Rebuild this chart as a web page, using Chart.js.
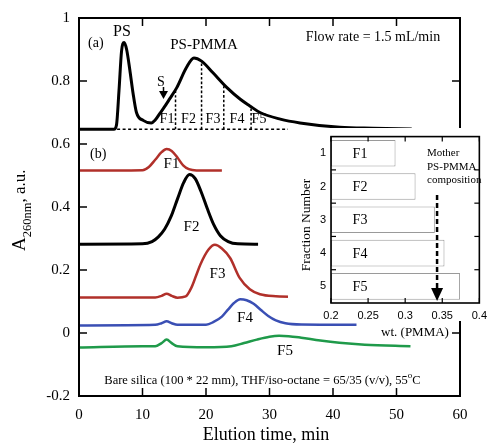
<!DOCTYPE html>
<html><head><meta charset="utf-8">
<script src="https://cdn.jsdelivr.net/npm/chart.js@4.4.1/dist/chart.umd.min.js"></script>
<style>
html,body{margin:0;padding:0;background:#fff;}
#wrap{position:relative;width:493px;height:443px;overflow:hidden;background:#fff;}
#main{position:absolute;left:0;top:0;}
#inset{position:absolute;left:280px;top:125px;}
</style></head><body>
<div id="wrap">
<canvas id="main" width="493" height="443"></canvas>
<canvas id="inset" width="213" height="215"></canvas>
</div>
<script>
// ---------- data ----------
const xTickStep = 10;
const yTickStep = 0.2;
// (a) mother PS-PMMA chromatogram
const aTime = [0, 5.5, 5.9, 6.3, 6.7, 7.1, 7.5, 8.0, 8.5, 9.05, 10.1, 11.4, 12.0, 12.8, 13.4, 14.3, 15.4, 16.9, 18.1, 19.3, 21.1, 23.3, 25.4, 26.9, 28.5, 31.7, 34.8, 41.1, 46.3, 52.4];
const aVal  = [0.647, 0.647, 0.66, 0.77, 0.895, 0.922, 0.9, 0.836, 0.763, 0.70, 0.675, 0.667, 0.676, 0.699, 0.716, 0.744, 0.779, 0.842, 0.873, 0.863, 0.826, 0.779, 0.742, 0.721, 0.70, 0.679, 0.667, 0.653, 0.65, 0.648];
const aBaseTime = [6, 52.5];
const aBaseVal = [0.647, 0.647];
const cutTime = [15.2, 19.3, 22.8, 27.1];
const cutTop  = [0.775, 0.863, 0.79, 0.719];
// (b) fractions
const f1Time = [0, 10, 11, 12, 13, 13.8, 14.6, 15.5, 16.4, 17.3, 18.5, 22.5];
const f1Val  = [0.516, 0.517, 0.527, 0.55, 0.574, 0.584, 0.578, 0.557, 0.532, 0.52, 0.516, 0.516];
const f2Time = [0, 10, 11.5, 12.5, 13.5, 14.5, 15.5, 16.5, 17.4, 18.3, 19.2, 20.2, 21.2, 22.3, 23.5, 25, 28.2];
const f2Val  = [0.282, 0.283, 0.29, 0.305, 0.33, 0.37, 0.425, 0.478, 0.503, 0.49, 0.45, 0.395, 0.345, 0.308, 0.29, 0.283, 0.282];
const f3Time = [0, 12, 13, 13.8, 14.6, 15.5, 16.8, 17.7, 18.4, 19.1, 20.4, 21.4, 22.5, 23.8, 25.3, 26.9, 28.5, 31, 35.6];
const f3Val  = [0.113, 0.113, 0.118, 0.125, 0.118, 0.112, 0.116, 0.144, 0.18, 0.217, 0.265, 0.28, 0.268, 0.238, 0.175, 0.139, 0.123, 0.117, 0.115];
const f4Time = [0, 12, 13, 13.8, 14.6, 15.5, 20, 21.2, 22.5, 23.5, 24.4, 25.4, 26.4, 27.5, 28.7, 29.8, 31, 32.5, 35, 43.7];
const f4Val  = [0.024, 0.026, 0.031, 0.037, 0.031, 0.026, 0.026, 0.035, 0.052, 0.075, 0.095, 0.107, 0.104, 0.093, 0.072, 0.054, 0.04, 0.031, 0.027, 0.026];
const f5Time = [0, 10, 12, 13, 13.8, 14.6, 15.5, 20, 24, 26, 28, 30, 31.5, 33, 35, 38, 41, 45, 52.2];
const f5Val  = [-0.046, -0.042, -0.042, -0.032, -0.021, -0.032, -0.042, -0.045, -0.042, -0.032, -0.021, -0.012, -0.009, -0.01, -0.015, -0.024, -0.031, -0.037, -0.042];
// inset
const fracLabels = ['1', '2', '3', '4', '5'];
const fracNames = ['F1', 'F2', 'F3', 'F4', 'F5'];
const pmmaWt = [0.287, 0.314, 0.340, 0.353, 0.374];
const motherPMMA = 0.343;
const insetXStep = 0.05;

// ---------- helpers ----------
const serif = "'Liberation Serif','Times New Roman',serif";
const sans = "'Liberation Sans',Arial,sans-serif";
const RED = '#b1302a', BLUE = '#3a4fb4', GREEN = '#1f9a4a', BLACK = '#000';
function pts(xs, ys) { return xs.map((x, i) => ({ x: x, y: ys[i] })); }
function lineDs(xs, ys, color, w, dash) {
  return { data: pts(xs, ys), borderColor: color, borderWidth: w, pointRadius: 0, fill: false,
           cubicInterpolationMode: 'monotone', borderDash: dash || [], borderCapStyle: 'butt' };
}
function seg(ctx, x1, y1, x2, y2) { ctx.beginPath(); ctx.moveTo(x1, y1); ctx.lineTo(x2, y2); ctx.stroke(); }
function txt(ctx, s, x, y, font, align) { ctx.font = font; ctx.textAlign = align || 'center'; ctx.textBaseline = 'alphabetic'; ctx.fillText(s, x, y); }

const datasets = [
  lineDs(aTime, aVal, BLACK, 3),
  lineDs(aBaseTime, aBaseVal, BLACK, 1.5, [3, 2.5]),
];
cutTime.forEach((t, i) => datasets.push(lineDs([t, t], [aBaseVal[0], cutTop[i]], BLACK, 1.5, [2.5, 2])));
datasets.push(lineDs(f1Time, f1Val, RED, 2.5));
datasets.push(lineDs(f2Time, f2Val, BLACK, 3));
datasets.push(lineDs(f3Time, f3Val, RED, 2.5));
datasets.push(lineDs(f4Time, f4Val, BLUE, 2.5));
datasets.push(lineDs(f5Time, f5Val, GREEN, 2.5));

const mainDeco = {
  id: 'mainDeco',
  afterDraw(chart) {
    const ctx = chart.ctx, ca = chart.chartArea, xs = chart.scales.x, ys = chart.scales.y;
    ctx.save();
    ctx.strokeStyle = '#000'; ctx.fillStyle = '#000';
    ctx.lineWidth = 1.5;
    xs.ticks.forEach(t => { const p = xs.getPixelForValue(t.value);
      seg(ctx, p, ca.bottom, p, ca.bottom - 8); seg(ctx, p, ca.top, p, ca.top + 8); });
    ys.ticks.forEach(t => { const p = ys.getPixelForValue(t.value);
      seg(ctx, ca.left, p, ca.left + 8, p); seg(ctx, ca.right, p, ca.right - 8, p); });
    ctx.lineWidth = 2;
    ctx.strokeRect(ca.left, ca.top, ca.right - ca.left, ca.bottom - ca.top);
    // annotations
    txt(ctx, 'PS', 122, 36, '16px ' + serif);
    txt(ctx, '(a)', 88, 47, '14px ' + serif, 'left');
    txt(ctx, 'PS-PMMA', 204, 49, '15px ' + serif);
    txt(ctx, 'Flow rate = 1.5 mL/min', 373, 41, '14px ' + serif);
    txt(ctx, 'S', 161, 86, '14px ' + serif);
    ctx.lineWidth = 1.5; seg(ctx, 163.5, 87, 163.5, 93);
    ctx.beginPath(); ctx.moveTo(159, 91); ctx.lineTo(168, 91); ctx.lineTo(163.5, 99); ctx.closePath(); ctx.fill();
    const fa = [[167, 'F1'], [188.5, 'F2'], [213, 'F3'], [237, 'F4'], [259, 'F5']];
    fa.forEach(f => txt(ctx, f[1], f[0], 123, '14px ' + serif));
    txt(ctx, '(b)', 90, 158, '14px ' + serif, 'left');
    txt(ctx, 'F1', 171.5, 168, '15px ' + serif);
    txt(ctx, 'F2', 191.5, 231, '15px ' + serif);
    txt(ctx, 'F3', 217.5, 278, '15px ' + serif);
    txt(ctx, 'F4', 245, 322, '15px ' + serif);
    txt(ctx, 'F5', 285, 355, '15px ' + serif);
    // bottom condition text with superscript
    const s1 = 'Bare silica (100 * 22 mm), THF/iso-octane = 65/35 (v/v), 55';
    ctx.font = '12.5px ' + serif; const w1 = ctx.measureText(s1).width;
    ctx.font = '9px ' + serif; const w2 = ctx.measureText('o').width;
    ctx.font = '12.5px ' + serif; const w3 = ctx.measureText('C').width;
    let x0 = 262.5 - (w1 + w2 + w3) / 2;
    txt(ctx, s1, x0, 384, '12.5px ' + serif, 'left');
    txt(ctx, 'o', x0 + w1, 378, '9px ' + serif, 'left');
    txt(ctx, 'C', x0 + w1 + w2, 384, '12.5px ' + serif, 'left');
    // axis titles
    txt(ctx, 'Elution time, min', 266, 440, '18px ' + serif);
    ctx.save();
    ctx.translate(25, 251); ctx.rotate(-Math.PI / 2);
    ctx.font = '19px ' + serif; ctx.textAlign = 'left';
    ctx.fillText('A', 0, 0); let wx = ctx.measureText('A').width;
    ctx.font = '12.5px ' + serif; ctx.fillText('260nm', wx, 6); wx += ctx.measureText('260nm').width;
    ctx.font = '17px ' + serif; ctx.fillText(', a.u.', wx, 0);
    ctx.restore();
    ctx.restore();
  }
};

new Chart(document.getElementById('main'), {
  type: 'line',
  data: { datasets: datasets },
  options: {
    responsive: false, animation: false, devicePixelRatio: 1,
    layout: { padding: { top: 15, right: 33, left: 0, bottom: 0 } },
    plugins: { legend: { display: false }, tooltip: { enabled: false } },
    scales: {
      x: { type: 'linear', min: 0, max: 60,
           ticks: { stepSize: xTickStep, color: '#000', font: { family: serif, size: 15 }, padding: 10, maxRotation: 0, autoSkip: false },
           grid: { display: false, drawTicks: false }, border: { display: false },
           afterFit: s => { s.height = 47; } },
      y: { type: 'linear', min: -0.2, max: 1,
           ticks: { stepSize: yTickStep, color: '#000', font: { family: serif, size: 15 }, padding: 9, autoSkip: false,
                    callback: v => String(Math.round(v * 10) / 10) },
           grid: { display: false, drawTicks: false }, border: { display: false },
           afterFit: s => { s.width = 79; } }
    }
  },
  plugins: [mainDeco]
});

// ---------- inset ----------
const insetBg = {
  id: 'insetBg',
  beforeDraw(chart) {
    const ctx = chart.ctx; ctx.save(); ctx.fillStyle = '#fff';
    ctx.fillRect(8, 3, 205, 193);
    ctx.fillRect(98, 197, 74, 18);
    ctx.restore();
  },
  afterDraw(chart) {
    const ctx = chart.ctx, ca = chart.chartArea, xs = chart.scales.x, ys = chart.scales.y;
    ctx.save(); ctx.strokeStyle = '#000'; ctx.fillStyle = '#000';
    ctx.lineWidth = 1.2;
    xs.ticks.forEach(t => { const p = xs.getPixelForValue(t.value);
      seg(ctx, p, ca.bottom, p, ca.bottom - 5); seg(ctx, p, ca.top, p, ca.top + 5); });
    for (let i = 0; i < fracLabels.length - 1; i++) {
      const p = (ys.getPixelForValue(i) + ys.getPixelForValue(i + 1)) / 2;
      seg(ctx, ca.left, p, ca.left + 5, p); seg(ctx, ca.right, p, ca.right - 5, p);
    }
    ctx.lineWidth = 1.6;
    ctx.strokeRect(ca.left, ca.top, ca.right - ca.left, ca.bottom - ca.top);
    // bar labels
    fracNames.forEach((n, i) => { ctx.font = '14px ' + serif; ctx.textAlign = 'center'; ctx.textBaseline = 'middle';
      ctx.fillText(n, ca.left + 29, ys.getPixelForValue(i) + 1); });
    // mother composition arrow
    const mx = xs.getPixelForValue(motherPMMA);
    ctx.lineWidth = 2.5; ctx.setLineDash([5, 3]); seg(ctx, mx, 70, mx, 166); ctx.setLineDash([]);
    ctx.beginPath(); ctx.moveTo(mx - 6, 163); ctx.lineTo(mx + 6, 163); ctx.lineTo(mx, 176); ctx.closePath(); ctx.fill();
    txt(ctx, 'Mother', 147, 31, '11px ' + serif, 'left');
    txt(ctx, 'PS-PMMA', 147, 45, '11px ' + serif, 'left');
    txt(ctx, 'composition', 147, 58, '11px ' + serif, 'left');
    txt(ctx, 'wt. (PMMA)', 135, 211, '13px ' + serif);
    ctx.save(); ctx.translate(30, 100); ctx.rotate(-Math.PI / 2);
    txt(ctx, 'Fraction Number', 0, 0, '13.5px ' + serif); ctx.restore();
    ctx.restore();
  }
};

new Chart(document.getElementById('inset'), {
  type: 'bar',
  data: { labels: fracLabels,
          datasets: [{ data: pmmaWt, base: 0.2, backgroundColor: '#fff', borderColor: '#9a9a9a', borderWidth: 1,
                       borderSkipped: false, barPercentage: 0.8, categoryPercentage: 1 }] },
  options: {
    indexAxis: 'y', responsive: false, animation: false, devicePixelRatio: 1,
    layout: { padding: { top: 10, right: 7, left: 0, bottom: 0 } },
    plugins: { legend: { display: false }, tooltip: { enabled: false } },
    scales: {
      x: { type: 'linear', min: 0.2, max: 0.4,
           ticks: { stepSize: insetXStep, color: '#000', font: { family: sans, size: 11 }, padding: 6, maxRotation: 0, autoSkip: false,
                    callback: v => String(Math.round(v * 100) / 100) },
           grid: { display: false, drawTicks: false }, border: { display: false },
           afterFit: s => { s.height = 37; } },
      y: { type: 'category',
           ticks: { color: '#000', font: { family: sans, size: 11 }, padding: 5 },
           grid: { display: false, drawTicks: false }, border: { display: false },
           afterFit: s => { s.width = 51; } }
    }
  },
  plugins: [insetBg]
});
</script>
</body></html>
